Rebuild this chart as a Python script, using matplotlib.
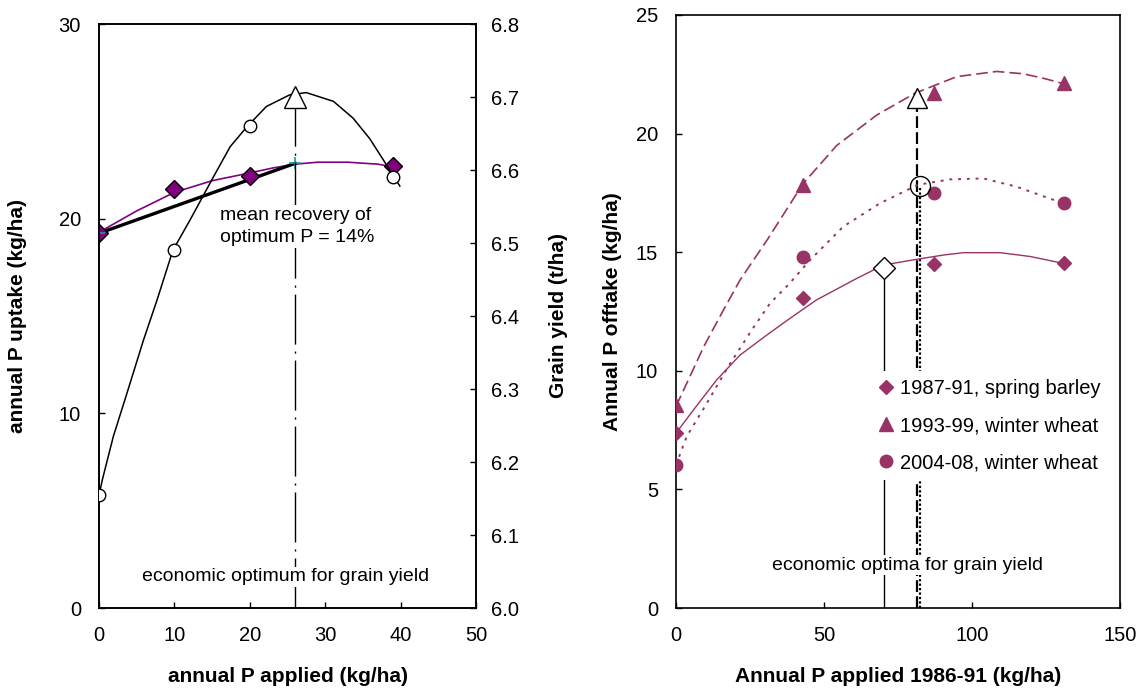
import matplotlib.pyplot as plt
from matplotlib import rcParams as rc
import numpy as np

# ---- left panel: P uptake and grain yield vs annual P applied ----
p_applied = [0, 10, 20, 39]
p_uptake = [19.25, 21.5, 22.2, 22.7]
grain_yield = [6.155, 6.49, 6.66, 6.59]

# fitted response curves, read along their length
uptake_fit_x = [0, 5, 10, 15, 20, 23, 26, 29, 33, 37, 39]
uptake_fit_y = [19.3, 20.4, 21.35, 21.95, 22.35, 22.6, 22.8, 22.9, 22.9, 22.8, 22.65]
yield_fit_x = [0, 0.5, 1.9, 3.7, 5.9, 7.7, 9.8, 12.1, 15.2, 17.4, 19.6, 22.2,
               25.3, 27.5, 31.1, 33.7, 35.9, 37.7, 39.9]
yield_fit_y = [6.155, 6.178, 6.235, 6.294, 6.367, 6.422, 6.49, 6.532, 6.591,
               6.632, 6.659, 6.687, 6.703, 6.706, 6.694, 6.671, 6.643, 6.614, 6.578]

# economic optimum and recovery line
opt_p = 26
opt_yield = 6.70
opt_uptake = 22.84

# ---- right panel: P offtake per period ----
rate = [0, 43, 87, 131]
barley_8791 = [7.38, 13.07, 14.50, 14.53]
wheat_9399 = [8.56, 17.83, 21.71, 22.13]
wheat_0408 = [6.03, 14.80, 17.50, 17.07]

barley_fit_x = [0, 5.9, 13.7, 21.6, 30.7, 38.5, 47.5, 61.0, 70.1, 81.3, 90.3, 97.1, 109.5, 119.6, 130.8]
barley_fit_y = [7.37, 8.35, 9.61, 10.66, 11.51, 12.21, 12.99, 13.89, 14.46, 14.7, 14.88, 14.98, 14.98, 14.82, 14.53]
wheat93_fit_x = [0, 4.7, 9.3, 14.8, 21.6, 30.7, 43.0, 54.3, 67.8, 80.7, 94.8, 108.3, 117.4, 124.2, 131.1]
wheat93_fit_y = [8.5, 9.76, 11.0, 12.28, 13.82, 15.5, 17.9, 19.5, 20.78, 21.7, 22.4, 22.62, 22.52, 22.33, 22.1]
wheat04_fit_x = [0, 3.6, 10.4, 17.6, 25.6, 31.8, 37.9, 45.3, 56.5, 68.9, 81.7, 92.6, 103.8, 115.1, 130.8]
wheat04_fit_y = [6.03, 7.23, 8.63, 10.17, 11.72, 12.85, 13.62, 14.67, 16.08, 17.06, 17.84, 18.07, 18.11, 17.76, 17.06]

# economic optima (P rate, offtake)
optima_barley = (70.3, 14.33)
optima_wheat93 = (81.4, 21.5)
optima_wheat04 = (82.4, 17.79)

series_labels = ['1987-91, spring barley', '1993-99, winter wheat', '2004-08, winter wheat']

rc['font.family'] = 'Liberation Sans'
rc['font.size'] = 14.5

purple = '#800080'
plum = '#993366'

fig = plt.figure(figsize=(11.46, 6.93), dpi=100)

tick_kw = dict(direction='in', length=4, width=1, pad=13, labelsize=14.5)

# left panel
ax1 = fig.add_axes([99/1146, 85/693, 377/1146, 584/693])
ax2 = ax1.twinx()

ax1.plot(uptake_fit_x, uptake_fit_y, color=purple, lw=1.2, zorder=2)
ax1.plot([0, opt_p], [p_uptake[0], opt_uptake], color='black', lw=2.4, zorder=3)
ax1.plot(p_applied, p_uptake, 'D', ms=9.5, mfc=purple, mec='black', mew=1, zorder=4)
ax1.plot([0, opt_p], [p_uptake[0], opt_uptake], '+', ms=9, color='#1a9a9a', mew=1.2, zorder=5)

ax2.vlines(opt_p, 6.0, opt_yield, color='black', lw=1, linestyles=[(0, (36, 5, 1.5, 5))], zorder=1)
ax2.plot(yield_fit_x, yield_fit_y, color='black', lw=1.1, zorder=2)
ax2.plot(p_applied, grain_yield, 'o', ms=9, mfc='white', mec='black', mew=1, zorder=3)
ax2.plot([opt_p], [opt_yield], '^', ms=15.5, mfc='white', mec='black', mew=1, zorder=3)

ax2.text(16.0, 6.0 + (19.6 / 30) * 0.8, 'mean recovery of\noptimum P = 14%', ha='left', va='center',
         fontsize=14, linespacing=1.45, zorder=6,
         bbox=dict(facecolor='white', edgecolor='none', pad=1))
ax2.text(24.7, 6.0 + (1.6 / 30) * 0.8, 'economic optimum for grain yield', ha='center', va='center',
         fontsize=14, zorder=6, bbox=dict(facecolor='white', edgecolor='none', pad=1))

ax1.set_xlim(0, 50)
ax1.set_ylim(0, 30)
ax1.set_xticks(np.arange(0, 51, 10))
ax1.set_yticks(np.arange(0, 31, 10))
ax2.set_ylim(6.0, 6.8)
ax2.set_yticks(np.arange(6.0, 6.81, 0.1))
ax2.set_yticklabels(['%.1f' % v for v in np.arange(6.0, 6.81, 0.1)])
ax1.tick_params(**tick_kw)
ax2.tick_params(axis='y', direction='in', length=4, width=1, pad=11, labelsize=14.5)

ax1.set_xlabel('annual P applied (kg/ha)', fontweight='bold', fontsize=15, va='center')
ax1.xaxis.set_label_coords(0.5, (608 - 676) / 584)
ax1.set_ylabel('annual P uptake (kg/ha)', fontweight='bold', fontsize=15, va='center')
ax1.yaxis.set_label_coords((18 - 99) / 377, 0.5)
ax2.set_ylabel('Grain yield (t/ha)', fontweight='bold', fontsize=15, va='center')
ax2.yaxis.set_label_coords((558 - 99) / 377, 0.5)

for ax in (ax1, ax2):
    for s in ax.spines.values():
        s.set_linewidth(1.2)

# right panel
ax3 = fig.add_axes([676/1146, 85/693, 444/1146, 593/693])

ax3.vlines(optima_barley[0], 0, optima_barley[1], color='black', lw=1, zorder=1)
ax3.vlines(optima_wheat93[0], 0, optima_wheat93[1], color='black', lw=1.6,
           linestyles=[(0, (5.3, 1.9))], zorder=1)
ax3.vlines(optima_wheat04[0], 0, optima_wheat04[1], color='black', lw=1.6,
           linestyles=[(0, (1, 1))], zorder=1)

ax3.plot(barley_fit_x, barley_fit_y, color=plum, lw=1.0, zorder=2)
ax3.plot(wheat93_fit_x, wheat93_fit_y, color=plum, lw=1.2, ls=(0, (7, 3)), zorder=2)
ax3.plot(wheat04_fit_x, wheat04_fit_y, color=plum, lw=1.4, ls=(0, (1.5, 3)), zorder=2)

h1, = ax3.plot(rate, barley_8791, 'D', ms=6.8, color=plum, mec=plum, ls='none', zorder=4)
h2, = ax3.plot(rate, wheat_9399, '^', ms=9.6, color=plum, mec=plum, ls='none', zorder=4)
h3, = ax3.plot(rate, wheat_0408, 'o', ms=9, color=plum, mec=plum, ls='none', zorder=4)

ax3.plot(*optima_barley, 'D', ms=11, mfc='white', mec='black', mew=1, zorder=5)
ax3.plot(*optima_wheat04, 'o', ms=14.4, mfc='none', mec='black', mew=1, zorder=5)
ax3.plot(*optima_wheat93, '^', ms=15, mfc='white', mec='black', mew=1, zorder=5)

ax3.text(78.3, 1.81, 'economic optima for grain yield', ha='center', va='center', fontsize=14,
         zorder=6, bbox=dict(facecolor='white', edgecolor='none', pad=1))

leg = ax3.legend([h1, h2, h3], series_labels, loc='upper left',
                 bbox_to_anchor=((870 - 676) / 444, (608 - 371) / 593),
                 frameon=True, fancybox=False, framealpha=1, facecolor='white', edgecolor='none',
                 borderpad=0.4, borderaxespad=0, handlelength=0.8, handletextpad=0.3,
                 labelspacing=0.9, fontsize=14.5)
leg.set_zorder(7)

ax3.set_xlim(0, 150)
ax3.set_ylim(0, 25)
ax3.set_xticks([0, 50, 100, 150])
ax3.set_yticks(np.arange(0, 26, 5))
ax3.tick_params(**tick_kw)
ax3.set_xlabel('Annual P applied 1986-91 (kg/ha)', fontweight='bold', fontsize=15, va='center')
ax3.xaxis.set_label_coords(0.5, (608 - 676) / 593)
ax3.set_ylabel('Annual P offtake (kg/ha)', fontweight='bold', fontsize=15, va='center')
ax3.yaxis.set_label_coords((612 - 676) / 444, 0.5)
for s in ax3.spines.values():
    s.set_linewidth(1.2)

plt.savefig('out.png', dpi=100)
